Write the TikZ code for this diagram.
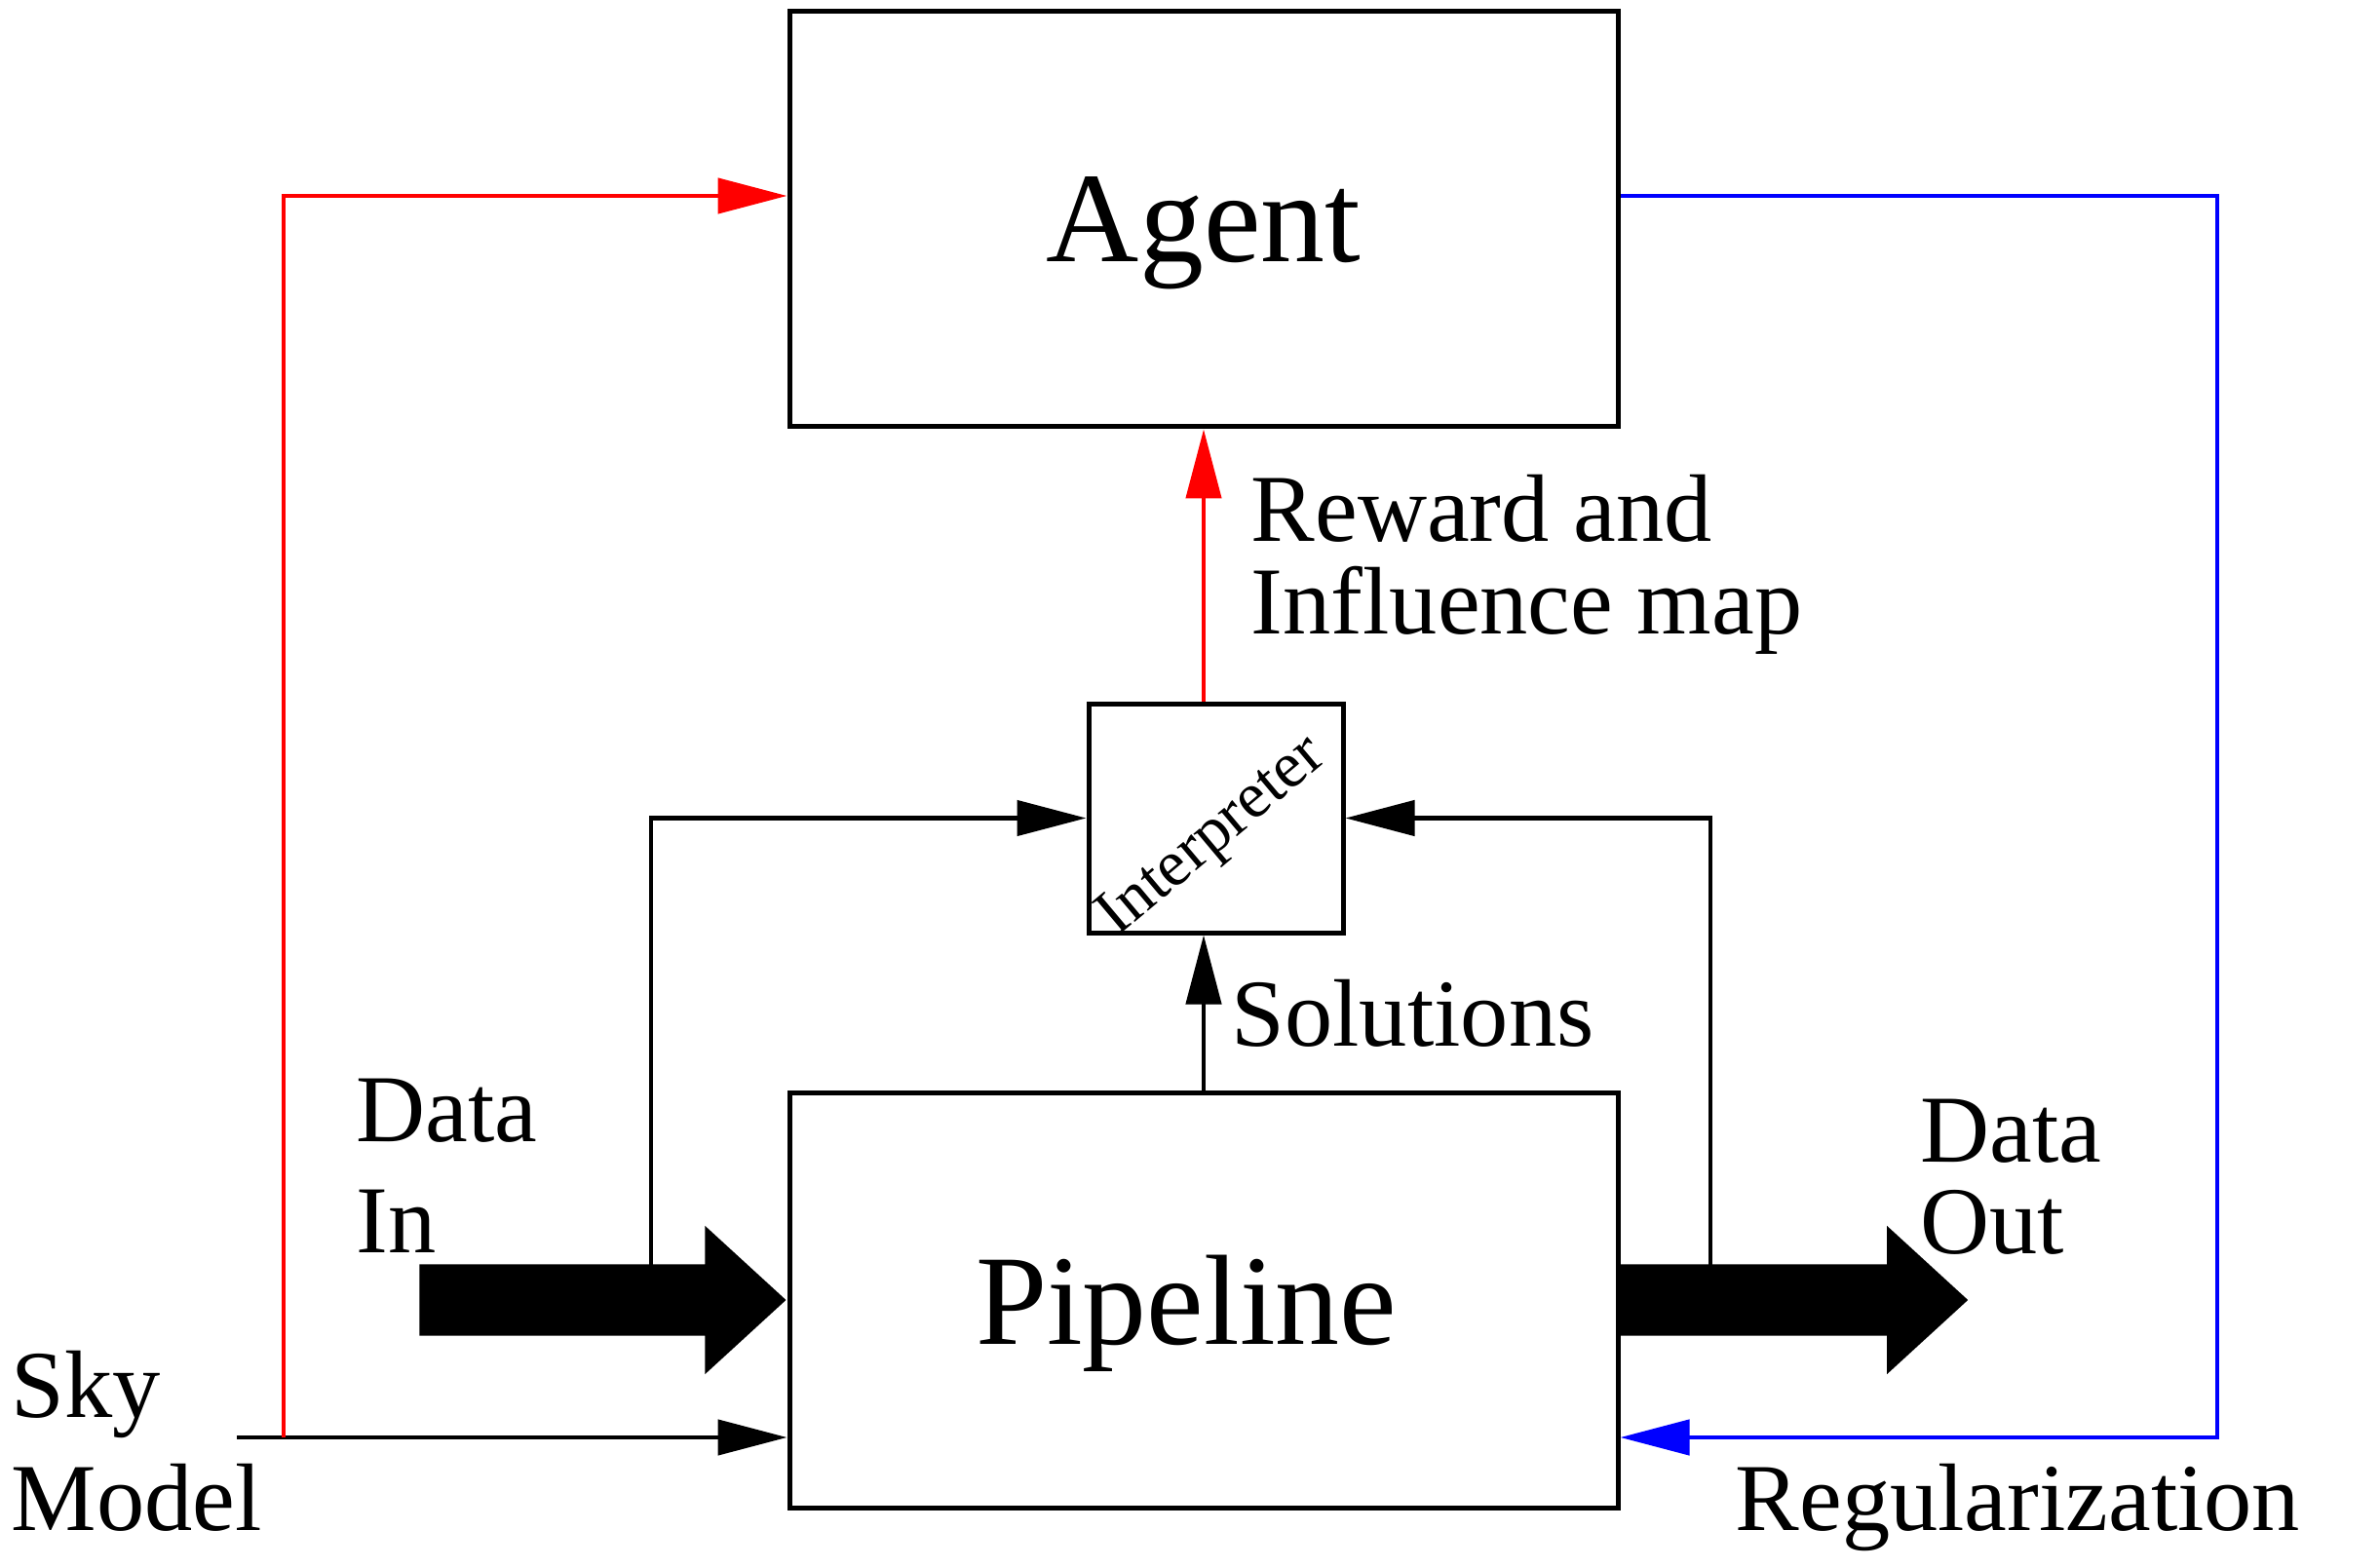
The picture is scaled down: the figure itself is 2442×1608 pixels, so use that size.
\documentclass[tikz,border=0pt]{standalone}
\usepackage{fontspec}
\setmainfont{Liberation Serif}
\usetikzlibrary{shapes,arrows.meta,calc}

\begin{document}
\begin{tikzpicture}[x=0.1mm,y=0.1mm,
		box/.style={draw, line width=0.5mm, inner sep=0pt},
		wire/.style={line width=0.45mm, -{Triangle[length=7.1mm,width=3.6mm]}},
		fatarrow/.style={single arrow, fill=black, inner xsep=0pt, inner ysep=3.6mm, single arrow head extend=3.95mm, single arrow tip angle=85, single arrow head indent=0pt},
		lbl/.style={anchor=base west, align=left, inner sep=0pt}]
			\useasboundingbox (0,0) rectangle (2442,1608);
			\node[box, minimum width=85mm, minimum height=42.6mm, text depth=0pt, font=\fontsize{37.5}{40}\selectfont] (agent) at (1235,1383) {Agent};
			\node[box, minimum width=85mm, minimum height=42.6mm, text depth=0pt, font=\fontsize{37.5}{40}\selectfont] (pipe) at (1235,274) {Pipeline\hspace*{3.6mm}};
			\node[box, minimum width=26.1mm, minimum height=23.5mm, label={[rotate=40, xshift=-1.5mm, yshift=-1.4mm, font=\fontsize{19}{20}\selectfont]center:Interpreter}] (interp) at (1247.5,768.5) {};
			\draw[wire] (pipe.north) -- (pipe.north |- interp.south);
			\draw[wire, red] (agent.south |- interp.north) -- (agent.south);
			\node[fatarrow, minimum height=37.6mm, anchor=tip] (datain) at (pipe.west) {};
			\node[fatarrow, minimum height=35.6mm, anchor=tail] (dataout) at (pipe.east) {};
			\coordinate (tapin) at (668,308);
			\coordinate (tapout) at (1755,308);
			\draw[wire] (tapin) |- (interp.west);
			\draw[wire] (tapout) |- (interp.east);
			\coordinate (skyin) at (243,133);
			\coordinate (skyfork) at (291,133);
			\coordinate (regcorner) at (2275,133);
			\draw[wire] (skyin) -- (pipe.west |- skyin);
			\draw[wire, red] (skyfork) |- ($(agent.west)+(0,24)$);
			\draw[wire, blue] ($(agent.east)+(0,24)$) -| (regcorner) -- (pipe.east |- regcorner);
			\node[lbl, font=\fontsize{28}{27}\selectfont] (reward) at (1283,958) {Reward and\\Influence map};
			\node[lbl, font=\fontsize{28}{32}\selectfont] (solutions) at (1263,535) {Solutions};
			\node[lbl, font=\fontsize{28}{32.4}\selectfont] (datainlbl) at (365,323) {Data\\In};
			\node[lbl, font=\fontsize{28}{26.5}\selectfont] (dataoutlbl) at (1970,322) {Data\\Out};
			\node[lbl, font=\fontsize{28}{33}\selectfont] (sky) at (11,38) {Sky\\Model};
			\node[lbl, font=\fontsize{28}{32}\selectfont] (reg) at (1780,38) {Regularization};
		\end{tikzpicture}
\end{document}
